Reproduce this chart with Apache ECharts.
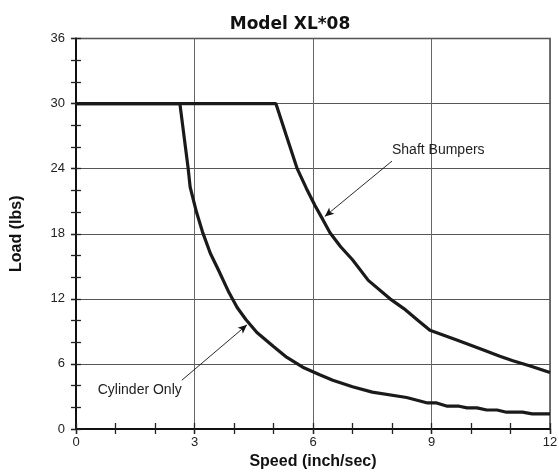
<!DOCTYPE html>
<html><head><meta charset="utf-8">
<script src="https://cdn.jsdelivr.net/npm/echarts@6/dist/echarts.min.js"></script>
<style>html,body{margin:0;padding:0;background:#fff}#c{width:559px;height:475px}</style>
</head><body><div id="c"></div>
<script>
const titleText = 'Model XL*08';
const xName = 'Speed (inch/sec)';
const yName = 'Load (lbs)';
const cylinderOnly = [[0,30],[2.63,30],[2.84,24],[2.89,22.3],[3.05,20],[3.2,18.2],[3.4,16.2],[3.6,14.7],[3.87,12.6],[4.08,11.2],[4.3,10.1],[4.58,8.9],[5.0,7.6],[5.34,6.6],[5.74,5.7],[6.17,5.0],[6.5,4.5],[6.75,4.2],[7.0,3.9],[7.5,3.4],[8.37,2.9],[8.9,2.4],[9.13,2.4],[9.4,2.1],[9.7,2.1],[9.9,1.95],[10.15,1.95],[10.4,1.75],[10.66,1.75],[10.9,1.55],[11.3,1.55],[11.55,1.4],[12,1.4]];
const shaftBumpers = [[0,30],[5.06,30],[5.32,27.1],[5.6,24],[5.83,22.2],[6.05,20.6],[6.25,19.3],[6.43,18.1],[6.7,16.8],[7.0,15.6],[7.4,13.7],[7.95,12.0],[8.3,11.1],[8.66,10.0],[8.96,9.1],[9.64,8.2],[10.3,7.3],[10.73,6.7],[11.06,6.3],[11.5,5.8],[12,5.2]];
const shaftLabel = {text:'Shaft Bumpers', at:[8.0,25.7], arrowFrom:[8.0,24.7], arrowTo:[6.3,19.6]};
const cylLabel = {text:'Cylinder Only', at:[0.55,3.6], arrowFrom:[2.68,4.5], arrowTo:[4.33,9.6]};

const chart = echarts.init(document.getElementById('c'));
const font = 'Liberation Sans, Arial, sans-serif';
const lineCol = '#1a1a1a';
function tickAxisX(inside,len){return {type:'value',min:0,max:12,interval:1,position:'bottom',
  axisLine:{show:false},axisLabel:{show:false},splitLine:{show:false},
  axisTick:{show:true,inside:inside,length:len,lineStyle:{color:'#222',width:1.3}}};}
function tickAxisY(inside,len){return {type:'value',min:0,max:36,interval:2,position:'left',
  axisLine:{show:false},axisLabel:{show:false},splitLine:{show:false},
  axisTick:{show:true,inside:inside,length:len,lineStyle:{color:'#222',width:1.3}}};}
chart.setOption({
  animation:false,
  title:{text:titleText,left:285,top:11,textAlign:'center',textStyle:{fontFamily:'DejaVu Sans, sans-serif',fontWeight:'bold',fontSize:17,color:'#111'}},
  grid:{left:76,right:9,top:38.5,bottom:46,show:true,borderColor:'#444',borderWidth:1.5,outerBoundsMode:'none',containLabel:false},
  xAxis:[{type:'value',min:0,max:12,interval:3,name:xName,nameLocation:'middle',nameGap:21,
    nameTextStyle:{fontFamily:font,fontWeight:'bold',fontSize:16,color:'#111'},
    axisLine:{lineStyle:{color:'#111',width:2}},
    axisTick:{show:true,length:5,lineStyle:{color:'#222',width:1.3}},
    axisLabel:{fontFamily:font,fontSize:13,color:'#222',margin:7},
    splitLine:{show:true,lineStyle:{color:'#666',width:1}}},
    tickAxisX(true,6),tickAxisX(false,5)],
  yAxis:[{type:'value',min:0,max:36,interval:6,name:yName,nameLocation:'middle',nameGap:51,
    nameTextStyle:{fontFamily:font,fontWeight:'bold',fontSize:16,color:'#111'},
    axisLine:{lineStyle:{color:'#111',width:2}},
    axisTick:{show:true,length:5,lineStyle:{color:'#222',width:1.3}},
    axisLabel:{fontFamily:font,fontSize:13,color:'#222',margin:11},
    splitLine:{show:true,lineStyle:{color:'#555',width:1}}},
    tickAxisY(true,5),tickAxisY(false,5)],
  series:[
    {type:'line',name:'Cylinder Only',data:cylinderOnly,symbol:'none',smooth:false,
      lineStyle:{color:lineCol,width:3.2},
      markLine:{silent:true,symbol:['none','arrow'],symbolSize:[6,9],label:{show:false},
        lineStyle:{color:'#111',width:0.9,type:'solid'},
        data:[[{coord:cylLabel.arrowFrom},{coord:cylLabel.arrowTo}]]},
      markPoint:{silent:true,symbol:'rect',symbolSize:0,
        data:[{coord:cylLabel.at,label:{show:true,formatter:cylLabel.text,position:'right',distance:0,fontFamily:font,fontSize:14,color:'#222'}}]}},
    {type:'line',name:'Shaft Bumpers',data:shaftBumpers,symbol:'none',smooth:false,
      lineStyle:{color:lineCol,width:3.2},
      markLine:{silent:true,symbol:['none','arrow'],symbolSize:[6,9],label:{show:false},
        lineStyle:{color:'#111',width:0.9,type:'solid'},
        data:[[{coord:shaftLabel.arrowFrom},{coord:shaftLabel.arrowTo}]]},
      markPoint:{silent:true,symbol:'rect',symbolSize:0,
        data:[{coord:shaftLabel.at,label:{show:true,formatter:shaftLabel.text,position:'right',distance:0,fontFamily:font,fontSize:14,color:'#222'}}]}}
  ]
});
</script></body></html>
